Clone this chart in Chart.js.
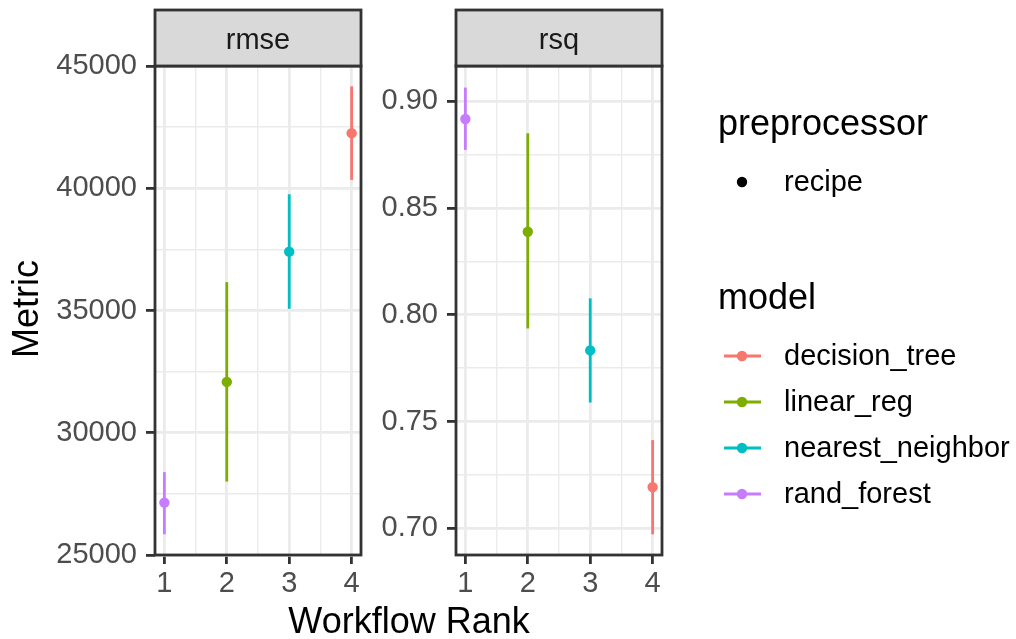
<!DOCTYPE html>
<html><head><meta charset="utf-8">
<script src="https://cdn.jsdelivr.net/npm/chart.js@4/dist/chart.umd.min.js"></script>
<style>
html,body{margin:0;padding:0;background:#fff;}
#wrap{position:relative;width:1016px;height:639px;overflow:hidden;font-family:"Liberation Sans",Arial,sans-serif;}
canvas{position:absolute;top:0;}
#c1{left:0;}
#c2{left:370px;}
#ov{position:absolute;left:0;top:0;pointer-events:none;}
</style></head><body>
<div id="wrap">
<canvas id="c1" width="370" height="639"></canvas>
<canvas id="c2" width="300" height="639"></canvas>
<svg id="ov" width="1016" height="639" xmlns="http://www.w3.org/2000/svg"></svg>
</div>
<script>
// ---- data ----
const models = ['decision_tree', 'linear_reg', 'nearest_neighbor', 'rand_forest'];
const modelColors = ['#F8766D', '#7CAE00', '#00BFC4', '#C77CFF'];
const preprocessors = ['recipe'];
const panels = ['rmse', 'rsq'];

const rmseRank  = [4, 2, 3, 1];
const rmseMean  = [42254, 32078, 37406, 27143];
const rmseLower = [40341, 28004, 35070, 25848];
const rmseUpper = [44168, 36160, 39754, 28389];

const rsqRank  = [4, 2, 3, 1];
const rsqMean  = [0.7193, 0.8389, 0.7833, 0.8917];
const rsqLower = [0.6972, 0.7936, 0.7589, 0.8772];
const rsqUpper = [0.7413, 0.8850, 0.8077, 0.9064];

const xMajor = [1, 2, 3, 4];
const xMinor = [1.5, 2.5, 3.5];
const rmseMajor = [25000, 30000, 35000, 40000, 45000];
const rmseMinor = [27500, 32500, 37500, 42500];
const rsqMajor = [0.70, 0.75, 0.80, 0.85, 0.90];
const rsqMinor = [0.725, 0.775, 0.825, 0.875];

const xTitle = 'Workflow Rank';
const yTitle = 'Metric';

// ---- styling ----
const FONT = '"Liberation Sans", Arial, sans-serif';
const GRID = '#EBEBEB';
const DARK = '#333333';
const LW = 2.8;
const LW_MINOR = 1.4;

const panelBorder = {
  id: 'panelBorder',
  afterDraw(chart) {
    const {ctx, chartArea: a} = chart;
    ctx.save();
    ctx.strokeStyle = DARK;
    ctx.lineWidth = LW;
    ctx.strokeRect(a.left, a.top, a.right - a.left, a.bottom - a.top);
    ctx.restore();
  }
};

function makePanel(id, rank, mean, lower, upper, yMajor, yMinor, yMin, yMax, fmt, yAxisWidth, rightPad) {
  const datasets = [];
  models.forEach((m, i) => {
    datasets.push({
      label: m + ' interval',
      data: [{x: rank[i], y: lower[i]}, {x: rank[i], y: upper[i]}],
      showLine: true,
      borderColor: modelColors[i],
      borderWidth: LW,
      pointRadius: 0,
      order: 2
    });
  });
  datasets.push({
    label: 'mean',
    data: models.map((m, i) => ({x: rank[i], y: mean[i]})),
    showLine: false,
    pointRadius: 5.2,
    pointBorderWidth: 0,
    pointBackgroundColor: modelColors,
    pointBorderColor: modelColors,
    order: 1
  });
  const isMajorX = v => xMajor.includes(v);
  const isMajorY = v => yMajor.some(t => Math.abs(t - v) < 1e-9);
  return new Chart(document.getElementById(id), {
    type: 'scatter',
    data: {datasets},
    options: {
      responsive: false,
      animation: false,
      events: [],
      layout: {padding: {top: 66, right: rightPad, left: 0, bottom: 0}},
      plugins: {legend: {display: false}, tooltip: {enabled: false}},
      scales: {
        x: {
          type: 'linear', min: 0.85, max: 4.15,
          afterBuildTicks: s => { s.ticks = xMajor.concat(xMinor).sort((a, b) => a - b).map(v => ({value: v})); },
          afterFit: s => { s.height = 84; s.paddingLeft = 0; s.paddingRight = 0; },
          border: {display: false},
          grid: {
            color: GRID,
            lineWidth: c => (c.tick && isMajorX(c.tick.value)) ? LW : LW_MINOR,
            tickColor: c => (c.tick && isMajorX(c.tick.value)) ? DARK : 'rgba(0,0,0,0)',
            tickLength: 9, tickWidth: LW
          },
          ticks: {
            padding: 5, autoSkip: false, maxRotation: 0, color: '#4D4D4D',
            font: {family: FONT, size: 29, lineHeight: 1},
            callback: v => isMajorX(v) ? String(v) : ''
          }
        },
        y: {
          type: 'linear', min: yMin, max: yMax,
          afterBuildTicks: s => { s.ticks = yMajor.concat(yMinor).sort((a, b) => a - b).map(v => ({value: v})); },
          afterFit: s => { s.width = yAxisWidth; s.paddingTop = 0; s.paddingBottom = 0; },
          border: {display: false},
          grid: {
            color: GRID,
            lineWidth: c => (c.tick && isMajorY(c.tick.value)) ? LW : LW_MINOR,
            tickColor: c => (c.tick && isMajorY(c.tick.value)) ? DARK : 'rgba(0,0,0,0)',
            tickLength: 9, tickWidth: LW
          },
          ticks: {
            padding: 9, autoSkip: false, color: '#4D4D4D',
            font: {family: FONT, size: 29, lineHeight: 1},
            callback: v => isMajorY(v) ? fmt(v) : ''
          }
        }
      }
    },
    plugins: [panelBorder]
  });
}

makePanel('c1', rmseRank, rmseMean, rmseLower, rmseUpper, rmseMajor, rmseMinor, 25000, 45000,
  v => String(Math.round(v)), 155, 9);
makePanel('c2', rsqRank, rsqMean, rsqLower, rsqUpper, rsqMajor, rsqMinor, 0.6875, 0.9165,
  v => v.toFixed(2), 86, 8);

// ---- overlay: strips, axis titles, legend ----
const NS = 'http://www.w3.org/2000/svg';
const ov = document.getElementById('ov');
function el(tag, attrs, text) {
  const e = document.createElementNS(NS, tag);
  for (const k in attrs) e.setAttribute(k, attrs[k]);
  if (text !== undefined) e.textContent = text;
  ov.appendChild(e);
  return e;
}
const strips = [{x: 155, w: 206}, {x: 456, w: 206}];
panels.forEach((p, i) => {
  el('rect', {x: strips[i].x, y: 10, width: strips[i].w, height: 56, fill: '#D9D9D9', stroke: DARK, 'stroke-width': LW});
  el('text', {x: strips[i].x + strips[i].w / 2, y: 48.5, 'text-anchor': 'middle', 'font-family': FONT, 'font-size': 29, fill: '#1A1A1A'}, p);
});
el('text', {x: 409, y: 633, 'text-anchor': 'middle', 'font-family': FONT, 'font-size': 36, fill: '#000'}, xTitle);
el('text', {x: 0, y: 0, 'text-anchor': 'middle', 'font-family': FONT, 'font-size': 36, fill: '#000', transform: 'translate(38,309) rotate(-90)'}, yTitle);

el('text', {x: 718, y: 135, 'font-family': FONT, 'font-size': 36, fill: '#000'}, 'preprocessor');
preprocessors.forEach((p, i) => {
  el('circle', {cx: 742, cy: 182 + i * 46, r: 5.2, fill: '#000'});
  el('text', {x: 784, y: 191 + i * 46, 'font-family': FONT, 'font-size': 29, fill: '#000'}, p);
});
el('text', {x: 718, y: 309, 'font-family': FONT, 'font-size': 36, fill: '#000'}, 'model');
models.forEach((m, i) => {
  const cy = 356 + i * 46;
  el('line', {x1: 724, x2: 761, y1: cy, y2: cy, stroke: modelColors[i], 'stroke-width': LW});
  el('circle', {cx: 742, cy: cy, r: 5.2, fill: modelColors[i]});
  el('text', {x: 784, y: 365 + i * 46, 'font-family': FONT, 'font-size': 29, fill: '#000'}, m);
});
</script>
</body></html>
